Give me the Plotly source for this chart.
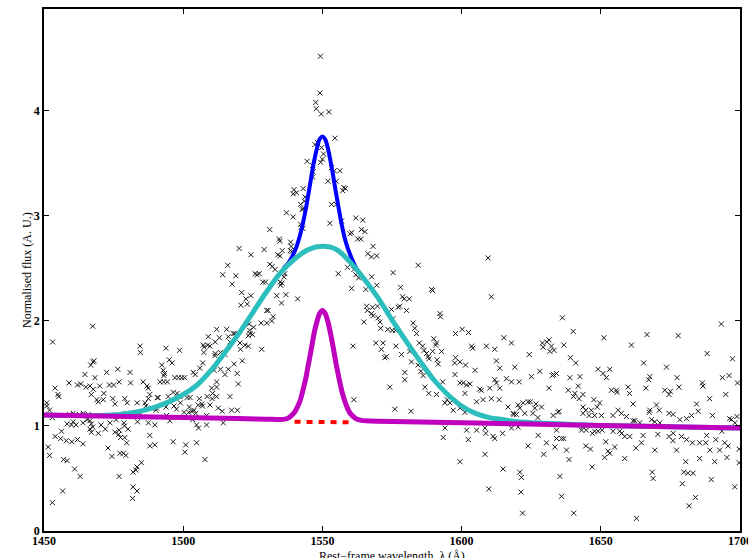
import plotly.graph_objects as go

# ---------------- data ----------------
# observed spectrum points: wavelength (A) and normalised flux
pts = [
 (1451,1.22),(1451,1.19),(1452,1.15),(1453,1.08),(1451.5,0.80),(1452,0.72),(1453,0.27),
 (1454,0.90),(1456,0.88),(1458,0.86),(1460,0.85),(1462,0.87),(1456.3,0.95),(1457,0.68),(1458.3,0.67),
 (1456.7,0.38),(1461,0.59),(1463,0.52),(1464,0.83),(1458.3,1.02),(1461.5,1.01),(1464,1.03),(1465.5,1.06),
 (1467,1.02),(1466.5,0.97),(1467,0.94),(1467.5,0.99),(1469.5,0.93),(1470.5,1.01),(1472,0.97),(1473,0.79),
 (1473.7,1.03),(1474.4,0.71),(1475.5,0.94),(1476.8,0.92),(1477,0.96),(1477.5,0.89),(1477.3,0.74),(1478.5,0.74),
 (1479.4,0.72),(1477,0.52),(1475.5,1.21),(1478.7,1.03),(1478.9,1.00),(1479,0.89),(1479.7,0.84),(1480.2,0.97),
 (1481.8,0.31),(1482,0.42),(1483.4,0.38),(1482,0.56),(1483,0.58),(1483.4,0.61),(1483.6,1.04),(1484.2,1.13),
 (1485,0.65),(1486.3,1.22),(1486.6,1.19),(1488,0.91),(1488,0.81),(1489.8,0.82),(1489.8,1.01),(1490.2,1.15),
 (1490.4,1.17),(1493.8,1.18),(1494,1.10),(1495.2,1.05),(1496.4,0.85),(1499,1.22),(1500.3,1.13),(1502,1.13),
 (1503,1.14),(1504.5,1.12),(1500.9,0.82),(1500.6,0.75),(1503.4,1.06),(1504.8,1.01),(1505.5,0.98),(1504.8,0.84),
 (1506.7,1.21),(1506.9,1.19),(1507.8,0.68),(1508.4,1.01),(1512.6,1.17),(1514,1.14),(1519.5,1.15),(1514.4,1.03),
 (1453.1,1.80),(1454,1.36),(1455,1.30),(1455.3,1.28),(1459,1.41),(1462,1.39),(1463.2,1.40),(1465,1.37),
 (1466.5,1.38),(1467.7,1.35),(1467,1.30),(1464.7,1.49),(1466.8,1.58),(1467.6,1.61),(1468,1.62),(1467.5,1.95),
 (1468.3,1.46),(1470,1.38),(1471.5,1.31),(1469,1.25),(1472.5,1.51),(1473.5,1.39),(1475,1.39),(1476.5,1.54),
 (1477,1.42),(1479,1.26),(1480.9,1.51),(1481.1,1.41),(1484.5,1.76),(1484.6,1.70),(1485.6,1.42),(1487,1.38),
 (1487.4,1.36),(1488,1.30),(1490.7,1.27),(1491,1.27),(1492.3,1.58),(1492.8,1.53),(1493.1,1.48),(1493.3,1.50),
 (1491.7,1.42),(1493,1.42),(1494.3,1.42),(1493.8,1.74),(1495,1.63),(1496,1.60),(1497,1.46),(1498.3,1.46),
 (1499.5,1.46),(1500.5,1.46),(1498.7,1.72),(1496.4,1.32),(1497.8,1.31),(1501.4,1.27),(1502.5,1.27),(1503.6,1.51),
 (1504.3,1.49),(1506,1.55),(1507.4,1.70),(1507.5,1.75),(1507,1.60),(1509,1.85),(1511.5,1.80),(1513,1.84),
 (1512,1.92),(1508.8,1.77),(1507.2,1.77),(1511.4,1.67),(1512,1.42),(1512,1.28),(1511.5,1.69),
 (1459.1,1.11),(1460.5,1.12),(1462.7,1.11),(1464.1,1.12),(1465.9,1.11),(1460.5,1.04),(1459.9,1.01),(1466.5,1.05),
 (1475.9,1.06),(1477.3,1.09),(1479.4,1.12),(1479.9,1.09),(1484.5,1.12),(1487.5,1.03),(1488.7,1.17),(1496.7,1.19),
 (1497.6,1.16),(1502.2,1.18),(1503.9,1.15),(1505.4,1.20),(1508.4,1.10),(1509.6,1.20),(1469.5,1.23),(1471.3,1.25),
 (1474.7,1.26),(1479.9,1.22),(1483.5,1.22),(1487.5,1.26),(1494.6,1.28),(1498.8,1.28),(1505.8,1.26),(1510.6,1.31),
 (1549.3,4.52),(1549.1,4.17),(1547.6,4.08),(1547.8,4.02),(1549.6,3.97),(1552.3,3.99),(1554.5,3.74),(1547.3,3.68),
 (1548.2,3.70),(1549.7,3.65),(1550.4,3.59),(1549.4,3.51),(1550,3.54),(1544.5,3.52),(1546.5,3.48),(1546.7,3.42),
 (1546.5,3.37),(1553.3,3.46),(1554.3,3.43),(1556.3,3.43),(1552,3.33),(1555,3.33),(1543.1,3.26),(1539.8,3.25),
 (1539.5,3.21),(1540.7,3.22),(1543.8,3.18),(1543.5,3.14),(1542.7,3.06),(1543,3.07),(1542.2,3.11),(1537.1,3.03),
 (1539.5,2.99),(1542.2,2.92),(1542.4,2.89),(1543,2.88),(1553.3,3.11),(1557.3,3.24),(1558.3,3.26),(1557.7,3.27),
 (1556.9,2.95),(1552.7,2.93),(1555,3.11),(1562,2.98),(1564.5,2.96),(1564,2.87),(1565.3,2.85),(1559.9,2.83),
 (1560.5,2.84),(1562.7,2.78),(1563.8,2.78),(1568.2,2.71),(1566.3,2.64),(1567.6,2.61),(1559,2.51),(1555.7,2.45),
 (1561.3,2.49),(1562,2.44),(1563,2.41),(1560.5,2.31),(1565.6,2.30),(1567.7,2.42),(1565.9,2.14),(1566.1,2.10),
 (1568.2,2.05),(1567.7,2.07),(1564.9,1.99),(1561,1.76),(1569.2,1.79),
 (1531.1,2.87),(1534.5,2.78),(1534.7,2.76),(1538.6,2.75),(1538.8,2.71),(1538.5,2.67),(1539,2.66),(1534,2.63),
 (1534.8,2.62),(1535.6,2.67),(1529.1,2.68),(1524.3,2.63),(1520.1,2.69),(1531.1,2.54),(1532,2.52),(1533,2.49),
 (1536.5,2.45),(1536.2,2.42),(1535.5,2.36),(1525.8,2.45),(1526.5,2.44),(1527.3,2.45),(1528.6,2.37),(1529.6,2.37),
 (1534.8,2.37),(1535,2.34),(1516,2.53),(1514.2,2.44),(1517.6,2.35),(1518.9,2.43),(1521,2.27),(1522.5,2.21),
 (1523,2.16),(1520.7,2.15),(1524.3,2.24),(1530,2.10),(1530.5,2.10),(1532.3,2.04),(1531.8,2.00),(1533.6,2.24),
 (1535.3,2.17),(1536.9,2.25),(1541.1,2.21),(1523.7,1.97),(1525.3,1.94),(1528,1.98),(1530,1.98),(1523.9,1.91),
 (1523.4,1.86),(1520.4,1.79),(1522.2,1.77),(1523.4,1.76),(1515.6,1.92),(1516.2,1.85),
 (1509.6,1.76),(1513.4,1.70),(1515,1.68),(1520.6,1.73),(1528.2,1.73),(1521.2,1.62),(1518.3,1.59),(1516.2,1.54),
 (1513.4,1.54),(1511.1,1.53),(1519.4,1.50),(1515,1.49),(1519.8,1.40),(1512,1.37),(1510.2,1.36),(1516.8,1.28),
 (1508.6,1.28),(1510.4,1.26),(1517.4,1.15),(1561.3,1.25),(1518,1.88),(1518.6,1.88),(1516.8,1.80),(1524,1.88),
 (1524.9,1.87),
 (1569.5,2.62),(1584.4,2.53),(1609.5,2.60),(1575.4,2.46),(1569.5,2.34),(1578.1,2.32),(1589.2,2.30),(1589.6,2.29),
 (1578.8,2.23),(1579.4,2.21),(1581.2,2.21),(1610.7,2.23),(1568,2.13),(1569.8,2.14),(1574.8,2.11),(1577.2,2.13),
 (1577.8,2.14),(1580.2,2.10),(1592.2,2.07),(1592.4,2.04),(1570,2.03),(1570.7,1.99),(1575.3,2.02),(1570.9,1.93),
 (1573.5,1.92),(1575.1,1.91),(1576.3,1.91),(1582.6,1.98),(1583.2,1.93),(1583.8,1.88),(1597.8,1.88),(1600.2,1.92),
 (1602.5,1.89),(1590,1.83),(1591,1.79),(1590.7,1.77),(1615.2,1.84),(1617.9,1.79),(1571.8,1.79),(1571.2,1.73),
 (1572.4,1.65),(1573,1.66),(1576.4,1.76),(1578.4,1.68),(1581.4,1.71),(1584.8,1.79),(1586,1.76),(1586.5,1.72),
 (1587.4,1.69),(1588,1.66),(1588.3,1.64),(1589.6,1.71),(1592.8,1.71),(1582,1.61),(1584.4,1.58),(1591.2,1.63),
 (1591.6,1.59),(1597.8,1.65),(1599.4,1.61),(1601.4,1.58),(1597.5,1.60),(1603.6,1.76),(1604,1.74),(1608.9,1.76),
 (1611.9,1.73),(1612.5,1.62),(1613.7,1.55),(1604.8,1.53),(1597.6,1.49),(1600.6,1.41),(1601.8,1.39),(1603,1.40),
 (1579.6,1.51),(1579.6,1.44),(1585.4,1.52),(1586.2,1.48),(1574.2,1.37),(1586.8,1.37),(1588.2,1.31),(1591,1.30),
 (1593.2,1.42),(1594.8,1.25),(1595.8,1.22),(1599.4,1.41),(1601.2,1.31),(1606.5,1.35),(1607.1,1.34),(1610.1,1.36),
 (1611.9,1.44),(1612.5,1.41),(1613.7,1.36),(1616.1,1.45),(1617.9,1.42),(1619.1,1.56),(1620.7,1.42),(1624.3,1.68),
 (1625.1,1.47),(1628.1,1.52),(1629,1.79),(1631.4,1.82),(1633.2,1.72),(1630.6,1.80),(1633,1.49),(1634.1,1.50),
 (1631.4,1.36),(1634.6,1.13),(1632.9,1.10),
 (1594,1.22),(1597,1.15),(1599.4,1.17),(1601.2,1.13),(1605.4,1.23),(1607.7,1.25),(1610.7,1.26),(1613.5,1.25),
 (1616.7,1.18),(1618.5,1.12),(1620.9,1.17),(1622.7,1.12),(1623.9,1.23),(1626.3,1.17),(1628.7,1.18),(1576,1.16),
 (1581.8,1.14),(1594,0.98),(1593.4,0.89),(1601.8,0.96),(1602.4,0.87),(1605.4,0.96),(1608.4,0.98),(1608.7,0.93),
 (1611.3,0.90),(1611.9,0.88),(1614.7,0.93),(1617.9,0.98),(1620.3,0.99),(1623.9,0.81),(1627.5,0.91),(1630.5,0.84),
 (1634.1,0.88),(1629.5,0.73),(1608.4,0.73),(1599.4,0.66),(1614.9,0.59),(1620.9,0.56),(1621.5,0.51),(1609.8,0.40),
 (1621.3,0.37),(1621.9,0.17),(1620.3,1.20),(1622.1,1.22),(1624.7,1.23),(1626.7,1.21),(1625.6,1.12),(1627.4,1.08),
 (1618.8,1.11),(1619.7,1.11),(1635,1.14),
 (1636.2,2.03),(1640.1,1.90),(1651.1,1.84),(1666.6,1.87),(1677.8,1.86),(1693.3,1.97),(1629.3,1.75),(1632.3,1.76),
 (1631.7,1.71),(1636.7,1.77),(1661,1.77),(1688.2,1.69),(1697.3,1.64),(1639.1,1.65),(1641,1.60),(1665.4,1.60),
 (1673.6,1.56),(1632.6,1.48),(1638.9,1.46),(1642.5,1.47),(1649,1.54),(1650.8,1.50),(1652,1.46),(1653.2,1.54),
 (1667.6,1.47),(1667.2,1.44),(1677.4,1.46),(1678.1,1.37),(1686.5,1.41),(1686.7,1.38),(1693.7,1.46),(1696.1,1.48),
 (1699.1,1.41),(1641.9,1.38),(1638.3,1.34),(1640.2,1.28),(1640.7,1.31),(1643.6,1.30),(1642.2,1.26),(1647.5,1.25),
 (1649.6,1.22),(1648.7,1.18),(1643.6,1.18),(1653.8,1.34),(1655.8,1.32),(1655.6,1.34),(1659.8,1.37),(1660.3,1.31),
 (1661.6,1.21),(1666.2,1.36),(1670,1.20),(1671,1.15),(1667.6,1.15),(1673,1.34),(1674.5,1.30),(1675,1.33),
 (1674.5,1.12),(1676,1.11),(1678.4,1.06),(1680.8,1.07),(1682.6,1.10),(1684.4,1.21),(1685,1.14),(1690.1,1.10),
 (1689.1,1.26),(1694.9,1.30),(1696.3,1.07),(1698.2,1.03),(1643.6,1.12),(1645.8,1.10),(1646.6,1.15),(1650.2,1.10),
 (1654.4,1.10),(1656.2,1.15),(1659.2,1.09),(1661.6,1.05),(1664,1.03),(1669.4,1.04),(1671.2,1.03),
 (1634.1,0.96),(1635.9,0.88),(1636.7,0.88),(1633.5,0.80),(1637.7,0.77),(1638.6,0.68),(1643.1,0.96),(1644.8,0.96),
 (1647.8,0.95),(1649,0.95),(1644.6,0.81),(1646.3,0.78),(1651.8,0.85),(1652.6,0.76),(1651.4,0.70),(1655,0.80),
 (1653.2,0.74),(1654.4,0.95),(1656.8,0.95),(1658.6,0.90),(1658.6,0.69),(1660.4,0.90),(1662.6,0.79),(1664.6,0.84),
 (1665.2,0.91),(1669.4,0.77),(1674.5,0.90),(1675.9,0.86),(1677.2,0.77),(1680.8,0.87),(1682.9,0.84),(1685.5,0.84),
 (1687.7,0.84),(1689.2,0.77),(1691.3,0.87),(1692.7,0.77),(1694.5,0.84),(1695.7,0.81),(1695.3,0.70),(1690.9,0.66),
 (1685.5,0.69),(1680.5,0.66),(1679.8,0.56),(1681.3,0.55),(1683.1,0.55),(1668.5,0.56),(1668.8,0.50),(1679.3,0.45),
 (1689.7,0.49),(1698.1,0.42),(1635.3,0.52),(1635.9,0.33),(1640.3,0.17),(1646.9,0.61),(1684,0.32),(1681.7,0.24),
 (1662.8,0.12),(1699.7,0.78),(1699.7,0.65),
 (1643.5,0.99),(1647,0.93),(1650.5,0.96),(1657.5,0.93),(1670.5,0.92),(1676,0.93),(1679,0.90),(1688,0.91),
 (1693.5,0.95),(1644.6,1.15),(1647.8,1.10),(1657.4,1.12),(1662.2,1.05),(1667.4,1.13),(1668.2,1.06),(1696.9,1.06),
 (1698.9,1.09),
]
obs_wave = [p[0] for p in pts]
obs_flux = [p[1] for p in pts]

# broad component + continuum (cyan)
broad_wave = [1450, 1460, 1470, 1480, 1490, 1500, 1505, 1510, 1515, 1520, 1525, 1530, 1535, 1540,
              1545, 1550, 1555, 1560, 1565, 1570, 1575, 1580, 1585, 1590, 1595, 1600, 1605, 1610,
              1615, 1620, 1630, 1640, 1650, 1670, 1700]
broad_flux = [1.105, 1.10, 1.10, 1.12, 1.18, 1.30, 1.39, 1.53, 1.70, 1.88, 2.08, 2.28, 2.46, 2.59,
              2.68, 2.71, 2.68, 2.56, 2.40, 2.22, 2.01, 1.81, 1.62, 1.44, 1.30, 1.19, 1.12, 1.08,
              1.06, 1.04, 1.025, 1.015, 1.005, 0.995, 0.98]

# total model (blue), only where it departs from the broad component
total_wave = [1536, 1538, 1540, 1541, 1542, 1543, 1544, 1545, 1546, 1547, 1548, 1549, 1550,
              1551, 1552, 1553, 1554, 1555, 1556, 1557, 1558, 1559, 1560, 1562, 1564]
total_flux = [2.50, 2.56, 2.66, 2.73, 2.82, 2.93, 3.06, 3.21, 3.37, 3.52, 3.64, 3.73, 3.755,
              3.73, 3.64, 3.51, 3.36, 3.20, 3.05, 2.91, 2.79, 2.70, 2.63, 2.51, 2.43]

# narrow component + continuum (magenta)
narrow_wave = [1450, 1480, 1510, 1530, 1536, 1538, 1540, 1541, 1542, 1543, 1544, 1545, 1546, 1547,
               1548, 1549, 1550, 1551, 1552, 1553, 1554, 1555, 1556, 1557, 1558, 1559, 1560, 1562,
               1564, 1570, 1590, 1620, 1660, 1700]
narrow_flux = [1.105, 1.09, 1.075, 1.065, 1.063, 1.08, 1.13, 1.18, 1.24, 1.34, 1.45, 1.59, 1.73, 1.88,
               1.99, 2.07, 2.10, 2.07, 1.99, 1.87, 1.73, 1.58, 1.45, 1.33, 1.24, 1.17, 1.12, 1.07,
               1.053, 1.045, 1.035, 1.02, 1.00, 0.98]

# continuum under the narrow line (red dashed)
cont_wave = [1540, 1561]
cont_flux = [1.04, 1.035]

x_ticks = [1450, 1500, 1550, 1600, 1650, 1700]
y_ticks = [0, 1, 2, 3, 4]

x_title = "Rest\u2212frame wavelength, \u03bb (\u00c5)"
y_title = "Normalised flux (A. U.)"

# ---------------- figure ----------------
fig = go.Figure()
fig.add_trace(go.Scatter(x=obs_wave, y=obs_flux, mode="markers",
                         marker=dict(symbol="x-thin", size=5,
                                     line=dict(width=1, color="rgba(15,15,15,0.95)"),
                                     color="black"),
                         showlegend=False, cliponaxis=True))
fig.add_trace(go.Scatter(x=total_wave, y=total_flux, mode="lines",
                         line=dict(color="#0000FF", width=4, shape="spline"), showlegend=False))
fig.add_trace(go.Scatter(x=broad_wave, y=broad_flux, mode="lines",
                         line=dict(color="#2CBDBD", width=5, shape="spline"), showlegend=False))
fig.add_trace(go.Scatter(x=cont_wave, y=cont_flux, mode="lines",
                         line=dict(color="#FF0000", width=4, dash="6px,6px"), showlegend=False))
fig.add_trace(go.Scatter(x=narrow_wave, y=narrow_flux, mode="lines",
                         line=dict(color="#BF00BF", width=5, shape="spline", smoothing=0.6),
                         showlegend=False))

axis_common = dict(showgrid=False, zeroline=False, showline=True, linecolor="black", linewidth=1.5,
                   mirror="ticks", ticks="inside", ticklen=5, tickwidth=1, tickcolor="black",
                   ticklabeloverflow="allow",
                   tickfont=dict(family="Liberation Serif", size=12, color="black", weight="bold"))

fig.update_layout(
    width=748, height=558,
    margin=dict(l=44, r=8, t=9, b=27, autoexpand=False),
    paper_bgcolor="white", plot_bgcolor="white",
    xaxis=dict(range=[1450, 1700], tickvals=x_ticks, ticktext=[str(v) for v in x_ticks],
               ticklabelstandoff=-2, automargin=False, **axis_common),
    yaxis=dict(range=[0, 4.97], tickvals=y_ticks, ticktext=[str(v) for v in y_ticks],
               automargin=False, **axis_common),
    annotations=[
        dict(text=x_title, xref="paper", yref="paper", x=0.5, y=0, xanchor="center",
             yanchor="middle", yshift=-25, showarrow=False,
             font=dict(family="Liberation Serif", size=12, color="black")),
        dict(text=y_title, xref="paper", yref="paper", x=0, y=0.5, xanchor="center",
             yanchor="middle", xshift=-17, textangle=-90, showarrow=False,
             font=dict(family="Liberation Serif", size=12, color="black")),
    ],
)

fig.write_html("out.html")
